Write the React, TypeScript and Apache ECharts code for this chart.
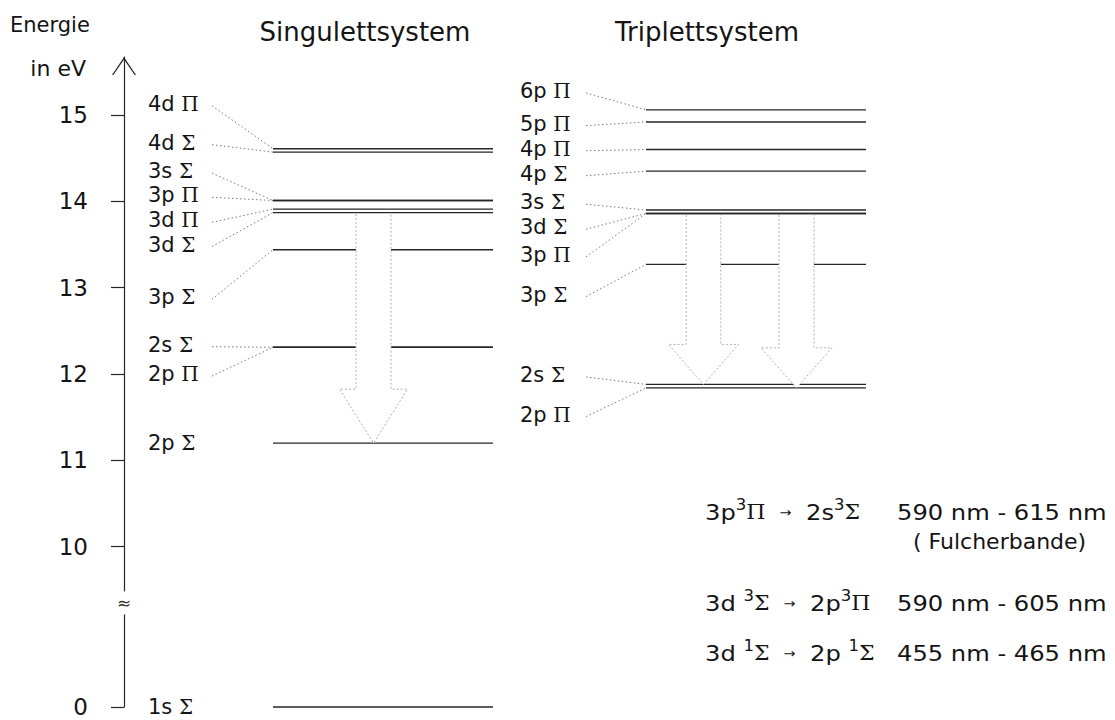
import React, { useEffect, useRef } from 'react';
import * as echarts from 'echarts';

// ---------------- data ----------------
const tickValues = [0, 10, 11, 12, 13, 14, 15];

const singletStates = ['4d Π', '4d Σ', '3s Σ', '3p Π', '3d Π', '3d Σ', '3p Σ', '2s Σ', '2p Π', '2p Σ', '1s Σ'];
const singletEnergies = [14.61, 14.57, 14.01, 14.01, 13.91, 13.87, 13.44, 12.31, 12.31, 11.2, 0];

const tripletStates = ['6p Π', '5p Π', '4p Π', '4p Σ', '3s Σ', '3d Σ', '3p Π', '3p Σ', '2s Σ', '2p Π'];
const tripletEnergies = [15.06, 14.92, 14.6, 14.35, 13.9, 13.86, 13.86, 13.27, 11.88, 11.84];

const transitionSystems = ['singlet', 'triplet', 'triplet'];
const transitionUpper = ['3d Σ', '3p Π', '3d Σ'];
const transitionLower = ['2p Σ', '2s Σ', '2p Π'];

const legendUpper = ['3p', '3d ', '3d '];
const legendUpperMult = ['3', '3', '1'];
const legendUpperSym = ['Π', 'Σ', 'Σ'];
const legendLower = ['2s', '2p', '2p '];
const legendLowerMult = ['3', '3', '1'];
const legendLowerSym = ['Σ', 'Π', 'Σ'];
const legendRanges = ['590 nm - 615 nm', '590 nm - 605 nm', '455 nm - 465 nm'];
const legendNotes = ['( Fulcherbande)', '', ''];

// ---------------- layout ----------------
const ZERO_AT = 8.144; // axis position of 0 eV (below the axis break)
const AXIS_MAX = 15.672;
const BREAK_AT = 9.35;
const toAxis = (e: number) => (e < 5 ? ZERO_AT + e : e);
const fromAxis = (v: number) => (v < 9.5 ? Math.round(v - ZERO_AT) : Math.round(v));

const singletLabelAt = [15.13, 14.68, 14.35, 14.07, 13.78, 13.5, 12.89, 12.34, 12.0, 11.2, 0];
const singletHasLeader = [1, 1, 1, 1, 1, 1, 1, 1, 1, 0, 0];
const tripletLabelAt = [15.28, 14.9, 14.61, 14.32, 13.99, 13.7, 13.38, 12.92, 11.99, 11.53];
const tripletHasLeader = [1, 1, 1, 1, 1, 1, 1, 1, 1, 1];

const columnLayout: Record<string, { labelX: number; leaderX: number; lineX0: number; lineX1: number }> = {
  singlet: { labelX: 148, leaderX: 212, lineX0: 273, lineX1: 493 },
  triplet: { labelX: 520, leaderX: 586, lineX0: 646, lineX1: 866 },
};

const arrowX = [373.5, 703.5, 796.5];
const arrowShaftHalf = [17.5, 17.3, 17.5];
const arrowHeadHalf = [34, 35, 35.5];
const arrowHeadLen = [54, 40, 40];

const legendX = 705;
const legendRangeX = 897;
const legendRowY = [512, 603, 653];
const legendNoteX = 913;
const legendNoteDy = 29;
const legendStretch = 1.1;

const SANS = '"DejaVu Sans", "Liberation Sans", Arial, sans-serif';
const SERIF = '"DejaVu Serif", "Liberation Serif", serif';
const TEXT = '#141414';
const LINE = '#262626';
const ARROW = '#b0b0b0';

const LABEL_RICH = {
  a: { fontFamily: SANS, fontSize: 21, lineHeight: 18, fill: TEXT, color: TEXT },
  s: { fontFamily: SERIF, fontSize: 20, lineHeight: 18, fill: TEXT, color: TEXT },
};

const LEGEND_RICH = {
  n: { fontFamily: SANS, fontSize: 22, lineHeight: 30, fill: TEXT, color: TEXT },
  sup: { fontFamily: SANS, fontSize: 15, lineHeight: 16, verticalAlign: 'top', fill: TEXT, color: TEXT },
  s: { fontFamily: SERIF, fontSize: 20, lineHeight: 30, fill: TEXT, color: TEXT },
  ar: { fontFamily: SANS, fontSize: 13, lineHeight: 30, padding: [0, 13, 0, 13], fill: TEXT, color: TEXT },
};

const stateRich = (name: string) => {
  const [n, s] = name.split(' ');
  return `{a|${n}} {s|${s}}`;
};

function levelSeries(col: string, energies: number[]) {
  const L = columnLayout[col];
  return {
    type: 'custom',
    coordinateSystem: 'cartesian2d',
    clip: false,
    silent: true,
    z: 2,
    data: energies.map((e) => [L.lineX0, toAxis(e), L.lineX1]),
    renderItem: (_p: any, api: any) => {
      const a = api.coord([api.value(0), api.value(1)]);
      const b = api.coord([api.value(2), api.value(1)]);
      return {
        type: 'line',
        shape: { x1: a[0], y1: a[1], x2: b[0], y2: b[1] },
        style: { stroke: LINE, lineWidth: 1.4 },
      };
    },
  };
}

function leaderSeries(col: string, energies: number[], labelAt: number[], has: number[]) {
  const L = columnLayout[col];
  return {
    type: 'custom',
    coordinateSystem: 'cartesian2d',
    clip: false,
    silent: true,
    z: 2,
    data: energies.map((e, i) => [L.leaderX, toAxis(labelAt[i]), L.lineX0, toAxis(e), has[i]]),
    renderItem: (_p: any, api: any) => {
      if (!api.value(4)) return { type: 'group', children: [] };
      const a = api.coord([api.value(0), api.value(1)]);
      const b = api.coord([api.value(2), api.value(3)]);
      return {
        type: 'line',
        shape: { x1: a[0], y1: a[1] + 2, x2: b[0], y2: b[1] },
        style: { stroke: '#7a7a7a', lineWidth: 1, lineDash: [1.5, 2.5] },
      };
    },
  };
}

function labelSeries(col: string, states: string[], labelAt: number[]) {
  const L = columnLayout[col];
  return {
    type: 'custom',
    coordinateSystem: 'cartesian2d',
    clip: false,
    silent: true,
    z: 5,
    data: states.map((_s, i) => [L.labelX, toAxis(labelAt[i])]),
    renderItem: (params: any, api: any) => {
      const p = api.coord([api.value(0), api.value(1)]);
      return {
        type: 'text',
        x: p[0],
        y: p[1],
        style: {
          text: stateRich(states[params.dataIndex]),
          rich: LABEL_RICH,
          fontFamily: SANS,
          fontSize: 21,
          lineHeight: 18,
          fill: TEXT,
          align: 'left',
          verticalAlign: 'middle',
        },
      };
    },
  };
}

function energyOf(system: string, state: string) {
  if (system === 'singlet') return singletEnergies[singletStates.indexOf(state)];
  return tripletEnergies[tripletStates.indexOf(state)];
}

function arrowSeries() {
  return {
    type: 'custom',
    coordinateSystem: 'cartesian2d',
    clip: false,
    silent: true,
    z: 3,
    data: transitionSystems.map((s, i) => [
      arrowX[i],
      toAxis(energyOf(s, transitionUpper[i])),
      toAxis(energyOf(s, transitionLower[i])),
    ]),
    renderItem: (params: any, api: any) => {
      const i = params.dataIndex;
      const cx = api.value(0);
      const top = api.coord([cx, api.value(1)]);
      const tip = api.coord([cx, api.value(2)]);
      const x = top[0];
      const yTop = top[1] + 1.6;
      const yTip = tip[1];
      const yBase = yTip - arrowHeadLen[i];
      const sw = arrowShaftHalf[i];
      const hw = arrowHeadHalf[i];
      const pts = [
        [x - sw, yTop],
        [x - sw, yBase],
        [x - hw, yBase],
        [x, yTip],
        [x + hw, yBase],
        [x + sw, yBase],
        [x + sw, yTop],
      ];
      return {
        type: 'group',
        children: [
          { type: 'polygon', shape: { points: pts }, style: { fill: '#ffffff', stroke: 'none' } },
          {
            type: 'polyline',
            shape: { points: pts },
            style: { fill: 'none', stroke: ARROW, lineWidth: 1, lineDash: [2, 2] },
          },
        ],
      };
    },
  };
}

function breakSeries() {
  return {
    type: 'custom',
    coordinateSystem: 'cartesian2d',
    clip: false,
    silent: true,
    z: 6,
    data: [[124, BREAK_AT]],
    renderItem: (_p: any, api: any) => {
      const p = api.coord([api.value(0), api.value(1)]);
      return {
        type: 'text',
        x: p[0],
        y: p[1],
        style: {
          text: '≈',
          fontFamily: SANS,
          fontSize: 17,
          fill: '#333',
          align: 'center',
          verticalAlign: 'middle',
          backgroundColor: '#ffffff',
          padding: [3, 0, 3, 0],
        },
      };
    },
  };
}

function legendGraphics() {
  const out: any[] = [];
  legendRanges.forEach((r, i) => {
    const y = legendRowY[i];
    const text =
      `{n|${legendUpper[i]}}{sup|${legendUpperMult[i]}}{s|${legendUpperSym[i]}}{ar|→}` +
      `{n|${legendLower[i]}}{sup|${legendLowerMult[i]}}{s|${legendLowerSym[i]}}`;
    out.push({
      type: 'text',
      x: legendX,
      y,
      scaleX: legendStretch,
      style: { text, rich: LEGEND_RICH, fontFamily: SANS, fontSize: 22, fill: TEXT, align: 'left', verticalAlign: 'middle' },
    });
    out.push({
      type: 'text',
      x: legendRangeX,
      y,
      scaleX: legendStretch,
      style: { text: r, fontFamily: SANS, fontSize: 22, fill: TEXT, align: 'left', verticalAlign: 'middle' },
    });
    if (legendNotes[i]) {
      out.push({
        type: 'text',
        x: legendNoteX,
        y: y + legendNoteDy,
        style: { text: legendNotes[i], fontFamily: SANS, fontSize: 22, fill: TEXT, align: 'left', verticalAlign: 'middle' },
      });
    }
  });
  return out;
}

function buildOption() {
  const ticks = tickValues.map(toAxis);
  return {
    animation: false,
    backgroundColor: '#ffffff',
    grid: { left: 124, right: 0, top: 57, bottom: 13, containLabel: false },
    xAxis: { type: 'value', min: 124, max: 1115, show: false },
    yAxis: {
      type: 'value',
      min: ZERO_AT,
      max: AXIS_MAX,
      axisLine: {
        show: true,
        symbol: ['none', 'path://M0,18L12,0L24,18L22.6,18L12,2.4L1.4,18Z'],
        symbolSize: [24, 18],
        symbolOffset: [0, -9],
        lineStyle: { color: LINE, width: 1.2 },
      },
      axisTick: { show: true, customValues: ticks, length: 13, lineStyle: { color: LINE, width: 1.2 } },
      axisLabel: {
        show: true,
        customValues: ticks,
        showMinLabel: true,
        showMaxLabel: true,
        formatter: (v: number) => String(fromAxis(v)),
        margin: 36,
        fontFamily: SANS,
        fontSize: 23,
        lineHeight: 18,
        color: TEXT,
      },
      splitLine: { show: false },
    },
    graphic: [
      { type: 'text', x: 10, y: 25, style: { text: 'Energie', fontFamily: SANS, fontSize: 21, fill: TEXT, align: 'left', verticalAlign: 'middle' } },
      { type: 'text', x: 86, y: 68, style: { text: 'in eV', fontFamily: SANS, fontSize: 22, fill: TEXT, align: 'right', verticalAlign: 'middle' } },
      { type: 'text', x: 365, y: 32, style: { text: 'Singulettsystem', fontFamily: SANS, fontSize: 26, fill: TEXT, align: 'center', verticalAlign: 'middle' } },
      { type: 'text', x: 707, y: 32, style: { text: 'Triplettsystem', fontFamily: SANS, fontSize: 26, fill: TEXT, align: 'center', verticalAlign: 'middle' } },
      ...legendGraphics(),
    ],
    series: [
      levelSeries('singlet', singletEnergies),
      levelSeries('triplet', tripletEnergies),
      leaderSeries('singlet', singletEnergies, singletLabelAt, singletHasLeader),
      leaderSeries('triplet', tripletEnergies, tripletLabelAt, tripletHasLeader),
      arrowSeries(),
      labelSeries('singlet', singletStates, singletLabelAt),
      labelSeries('triplet', tripletStates, tripletLabelAt),
      breakSeries(),
    ],
  };
}

export default function App() {
  const ref = useRef<HTMLDivElement>(null);
  useEffect(() => {
    if (!ref.current) return;
    const chart = echarts.init(ref.current, null, { renderer: 'svg' });
    chart.setOption(buildOption() as any);
    return () => chart.dispose();
  }, []);
  return (
    <div
      ref={ref}
      style={{ position: 'fixed', left: 0, top: 0, width: 1115, height: 720, background: '#fff' }}
    />
  );
}
